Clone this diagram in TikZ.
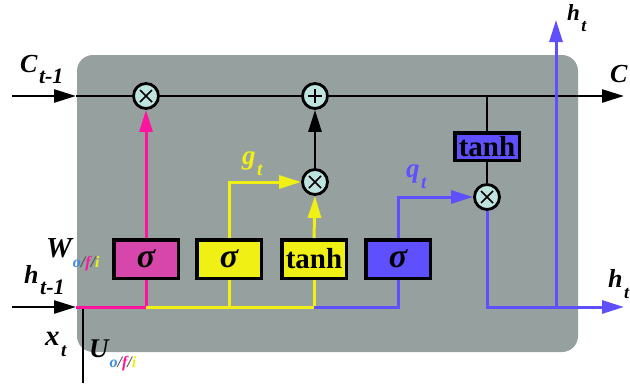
\documentclass[tikz,border=0pt]{standalone}
\usepackage{fontspec}
\setmainfont{Liberation Serif}
\usetikzlibrary{arrows.meta}
\definecolor{cellgrey}{RGB}{150,161,159}
\definecolor{magline}{RGB}{255,20,160}
\definecolor{magbox}{RGB}{215,70,170}
\definecolor{yel}{RGB}{240,240,20}
\definecolor{blu}{RGB}{95,80,255}
\definecolor{opfill}{RGB}{190,228,224}
\definecolor{oblue}{RGB}{60,140,230}
\newcommand\lsub[2][19]{\kern1.5pt\raisebox{-11pt}{\fontsize{#1}{#1}\selectfont #2}}
\newcommand\ofi{\kern1pt\raisebox{-10pt}{\fontsize{16}{16}\selectfont\textcolor{oblue}{o}\textcolor{black!70}{/}\textcolor{magline}{f}\textcolor{black!70}{/}\textcolor{yel}{i}}}
\begin{document}
\begin{tikzpicture}[x=1pt,y=-1pt,
  tip/.style={-{Triangle[length=22pt,width=13pt]}},
  blk/.style={draw=black,line width=2.6pt},
  mag/.style={draw=magline,line width=3pt},
  yl/.style={draw=yel,line width=3pt},
  bl/.style={draw=blu,line width=3pt},
  op/.style={circle,draw=black,line width=2.8pt,fill=opfill,minimum size=25pt,inner sep=0pt},
  mul/.style={op,path picture={
    \draw[line width=1.6pt] ([shift={(-6pt,-6pt)}]path picture bounding box.center) -- ++(12pt,12pt);
    \draw[line width=1.6pt] ([shift={(-6pt,6pt)}]path picture bounding box.center) -- ++(12pt,-12pt);}},
  add/.style={op,path picture={
    \draw[line width=1.6pt] ([shift={(-7pt,0pt)}]path picture bounding box.center) -- ++(14pt,0pt);
    \draw[line width=1.6pt] ([shift={(0pt,-7pt)}]path picture bounding box.center) -- ++(0pt,14pt);}},
  gatebox/.style={draw=black,line width=3.5pt,minimum width=64.5pt,minimum height=38.5pt,inner sep=0pt},
  lbl/.style={font=\fontsize{26}{26}\selectfont\bfseries\itshape,inner sep=0pt},
  sig/.style={font=\fontsize{34}{34}\selectfont\bfseries\itshape},
  tnh/.style={font=\fontsize{29}{29}\selectfont\bfseries}
]
\useasboundingbox (0,0) rectangle (630,391);
\fill[cellgrey,rounded corners=16pt] (77,55) rectangle (578,352);

% coordinates
\coordinate (cin) at (12,96);
\coordinate (cedge) at (76,96);
\coordinate (cout) at (624,96);
\coordinate (tap) at (487,96);
\coordinate (hin) at (12,307);
\coordinate (hedge) at (76,307);
\coordinate (b1) at (146,307);
\coordinate (b2) at (229,307);
\coordinate (b3) at (314,307);
\coordinate (b4) at (398,307);
\coordinate (hout) at (624,307);
\coordinate (hsplit) at (556,307);
\coordinate (htop) at (556,20);
\coordinate (xa) at (83,309);
\coordinate (xb) at (83,383);

% operators
\node[mul] (m1) at (146,96) {};
\node[add] (pl) at (315,96) {};
\node[mul] (m2) at (315,182) {};
\node[mul] (m3) at (487,197) {};

% gates
\node[gatebox,fill=magbox,sig] (s1) at (146,259) {σ};
\node[gatebox,fill=yel,sig] (s2) at (229,259) {σ};
\node[gatebox,fill=yel,tnh] (s3) at (314,259) {tanh};
\node[gatebox,fill=blu,sig] (s4) at (398,259) {σ};
\node[gatebox,fill=blu,tnh,minimum height=27.5pt] (th) at (487,146.5) {tanh};

% cell state line
\draw[blk,tip] (cin) -- (cedge);
\draw[blk] (cedge) -- (m1);
\draw[blk] (m1) -- (pl);
\draw[blk,tip] (pl) -- (cout);
\draw[blk] (tap) -- (th.north);
\draw[blk] (th.south) -- (m3.north);

% gate outputs
\draw[mag,tip,magline] (s1.north) -- (m1.south);
\draw[yl,tip,yel] (s2.north) |- (m2.west);
\draw[yl,tip,yel] (s3.north) -- (m2.south);
\draw[blk,tip] (m2.north) -- (pl.south);
\draw[bl,tip,blu] (s4.north) |- (m3.west);

% inputs
\draw[blk,tip] (hin) -- (hedge);
\draw[blk] (xa) -- (xb);
\draw[mag] (hedge) -- (b1) -- (s1.south);
\draw[yl] (b1) -- (b3);
\draw[yl] (b2) -- (s2.south);
\draw[yl] (b3) -- (s3.south);
\draw[bl] (b3) -- (b4) -- (s4.south);

% output
\draw[bl,tip,blu] (m3.south) |- (hout);
\draw[bl,tip,blu] (hsplit) -- (htop);

% labels
\node[lbl,anchor=base west] (lc) at (20,72) {C\lsub[22]{t-1}};
\node[lbl,anchor=base west] (lcout) at (610,82) {C};
\node[lbl,anchor=base west,font=\fontsize{23}{23}\selectfont\bfseries\itshape] (lht) at (567,20) {h\lsub[18]{t}};
\node[lbl,anchor=base west] (lhr) at (608,287) {h\lsub[18]{t}};
\node[lbl,anchor=base west] (lh) at (24,283) {h\lsub[22]{t-1}};
\node[lbl,anchor=base west,font=\fontsize{29}{29}\selectfont\bfseries\itshape] (lx) at (45,345) {x\lsub[19]{t}};
\node[lbl,anchor=base west,font=\fontsize{29}{29}\selectfont\bfseries\itshape] (lw) at (46,257) {W\ofi};
\node[lbl,anchor=base west,font=\fontsize{27}{27}\selectfont\bfseries\itshape] (lu) at (89,357) {U\ofi};
\node[lbl,anchor=base west,text=yel,font=\fontsize{27}{27}\selectfont\bfseries\itshape] (lg) at (242,164) {g\lsub[19]{t}};
\node[lbl,anchor=base west,text=blu,font=\fontsize{27}{27}\selectfont\bfseries\itshape] (lq) at (406,177) {q\lsub[19]{t}};
\end{tikzpicture}
\end{document}
